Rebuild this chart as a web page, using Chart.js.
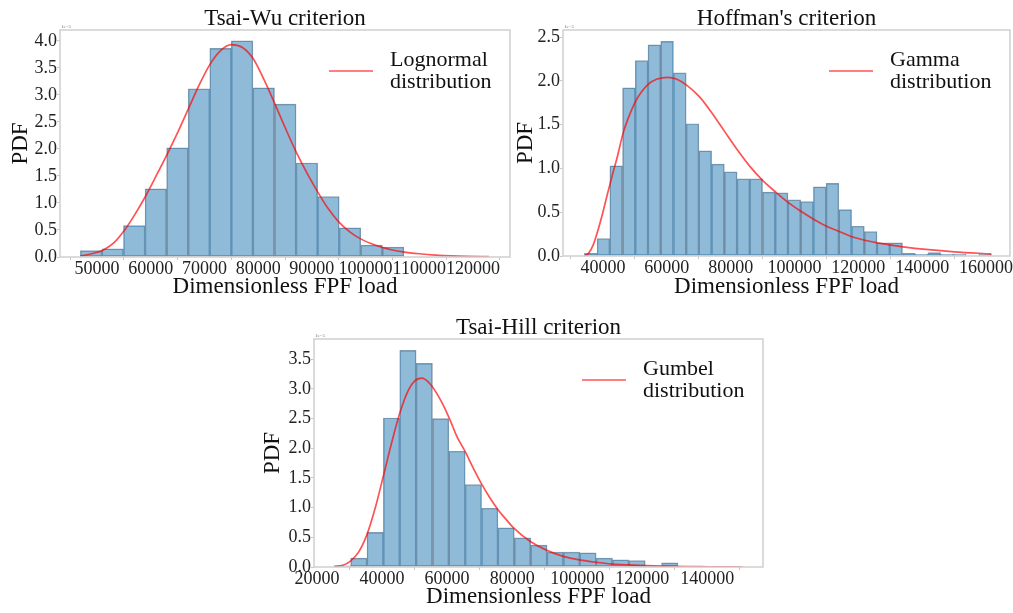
<!DOCTYPE html>
<html>
<head>
<meta charset="utf-8">
<title>FPF load distributions</title>
<script src="https://cdn.jsdelivr.net/npm/chart.js@4.4.0/dist/chart.umd.min.js"></script>
<style>
  body { margin: 0; background: #fff; width: 1013px; height: 613px; overflow: hidden; }
  canvas { position: absolute; }
</style>
</head>
<body>
<canvas id="tsaiWu" width="515" height="305" style="left:0px;top:0px"></canvas>
<canvas id="hoffman" width="508" height="305" style="left:505px;top:0px"></canvas>
<canvas id="tsaiHill" width="520" height="303" style="left:250px;top:310px"></canvas>
<script>
// PDF values are in units of 1e-5

// Tsai-Wu, histogram + lognormal fit
var tsaiWuBins = [48900, 52915, 56930, 60950, 64965, 68985, 73000, 77015, 81035, 85050, 89070, 93085, 97100, 101120, 105135];
var tsaiWuPdf = [0.12, 0.15, 0.58, 1.26, 2.02, 3.11, 3.86, 4.00, 3.13, 2.83, 1.74, 1.12, 0.54, 0.22, 0.185];
var tsaiWuFitX = [46900, 49000, 51000, 53000, 55000, 57000, 59000, 61000, 63000, 65000, 67000, 69000, 71000, 73000, 75000, 77000, 79000, 81000, 83000, 85000, 87000, 89000, 91000, 93000, 95000, 97000, 99000, 101000, 103000, 105000, 107000, 110000, 113000, 116000, 119000, 123000];
var tsaiWuFitY = [0.02, 0.06, 0.12, 0.25, 0.48, 0.78, 1.12, 1.50, 1.89, 2.30, 2.74, 3.18, 3.56, 3.82, 3.93, 3.88, 3.68, 3.30, 2.86, 2.40, 1.96, 1.57, 1.22, 0.90, 0.65, 0.47, 0.34, 0.25, 0.18, 0.13, 0.095, 0.06, 0.035, 0.02, 0.012, 0.006];
var tsaiWuXTicks = [50000, 60000, 70000, 80000, 90000, 100000, 110000, 120000];
var tsaiWuYTicks = [0, 0.5, 1, 1.5, 2, 2.5, 3, 3.5, 4];

// Hoffman, histogram + gamma fit
var hoffmanBins = [36190, 40175, 44160, 48145, 52130, 56115, 60100, 64085, 68070, 72055, 76040, 80025, 84010, 87995, 91980, 95965, 99950, 103935, 107920, 111905, 115890, 119875, 123860, 127845, 131830, 135815, 139800, 143785, 147770, 151755, 155740, 159725];
var hoffmanPdf = [0.03, 0.20, 1.03, 1.92, 2.23, 2.41, 2.45, 2.09, 1.51, 1.20, 1.05, 0.96, 0.88, 0.88, 0.73, 0.72, 0.64, 0.62, 0.79, 0.83, 0.53, 0.34, 0.28, 0.15, 0.15, 0.03, 0.02, 0.04, 0.02, 0.02, 0, 0.02];
var hoffmanFitX = [34230, 35500, 37000, 38500, 40000, 41500, 43000, 44500, 46300, 48000, 50300, 52000, 54150, 57000, 60400, 63000, 66200, 70200, 74200, 78150, 82150, 86100, 90100, 94100, 98100, 102000, 106000, 110000, 114000, 118000, 122000, 126000, 134000, 142000, 150000, 161600];
var hoffmanFitY = [0.0, 0.03, 0.13, 0.30, 0.50, 0.72, 0.93, 1.13, 1.40, 1.58, 1.77, 1.87, 1.96, 2.02, 2.04, 2.02, 1.95, 1.82, 1.63, 1.42, 1.21, 1.02, 0.86, 0.73, 0.61, 0.51, 0.42, 0.34, 0.28, 0.22, 0.18, 0.15, 0.105, 0.072, 0.048, 0.024];
var hoffmanXTicks = [40000, 60000, 80000, 100000, 120000, 140000, 160000];
var hoffmanYTicks = [0, 0.5, 1, 1.5, 2, 2.5];

// Tsai-Hill, histogram + Gumbel fit
var tsaiHillBins = [27845, 32875, 37905, 42935, 47965, 52995, 58025, 63055, 68085, 73115, 78145, 83175, 88205, 93235, 98265, 103295, 108325, 113355, 118385, 123415, 128445];
var tsaiHillPdf = [0.02, 0.15, 0.585, 2.51, 3.65, 3.43, 2.50, 1.95, 1.39, 0.99, 0.66, 0.49, 0.37, 0.25, 0.25, 0.24, 0.15, 0.12, 0.11, 0.02, 0.07];
var tsaiHillFitX = [25330, 28000, 30300, 32800, 35400, 38000, 40500, 43000, 45400, 47700, 50000, 52300, 55000, 57500, 60500, 63000, 65500, 68200, 70600, 73000, 75600, 78000, 80600, 85600, 90700, 95700, 100700, 105700, 110700, 115800, 125800, 140000, 150800];
var tsaiHillFitY = [0.01, 0.03, 0.10, 0.25, 0.55, 1.01, 1.55, 2.10, 2.58, 2.93, 3.13, 3.18, 3.07, 2.86, 2.53, 2.20, 1.95, 1.65, 1.40, 1.18, 0.97, 0.81, 0.65, 0.43, 0.28, 0.18, 0.12, 0.08, 0.05, 0.035, 0.014, 0.004, 0.002];
var tsaiHillXTicks = [20000, 40000, 60000, 80000, 100000, 120000, 140000];
var tsaiHillYTicks = [0, 0.5, 1, 1.5, 2, 2.5, 3, 3.5];

var serif = "'Liberation Serif', 'Times New Roman', serif";
Chart.defaults.font.family = serif;
Chart.defaults.color = '#222';

// frame, title, 1e-5 offset text and the two-line legend
var decorPlugin = {
    id: 'decor',
    afterDraw: function(chart, args, o) {
        var ctx = chart.ctx;
        var a = chart.chartArea;
        ctx.save();
        ctx.strokeStyle = '#cfcfcf';
        ctx.lineWidth = 1.5;
        ctx.strokeRect(a.left, a.top, a.right - a.left, a.bottom - a.top);

        ctx.fillStyle = '#777';
        ctx.font = '5px ' + serif;
        ctx.textAlign = 'left';
        ctx.textBaseline = 'bottom';
        ctx.fillText('1e\u22125', a.left + 1, a.top - 0.5);

        ctx.fillStyle = '#111';
        ctx.font = '23px ' + serif;
        ctx.textAlign = 'center';
        ctx.textBaseline = 'alphabetic';
        ctx.fillText(o.title, (a.left + a.right) / 2, a.top - 5);

        var fit = chart.data.datasets[0];
        ctx.strokeStyle = fit.borderColor;
        ctx.lineWidth = 1.7;
        ctx.beginPath();
        ctx.moveTo(a.right - 181, a.top + 41);
        ctx.lineTo(a.right - 137, a.top + 41);
        ctx.stroke();
        ctx.textAlign = 'left';
        ctx.font = '22px ' + serif;
        fit.label.split('\n').forEach(function(line, i) {
            ctx.fillText(line, a.right - 120, a.top + 36 + i * 21.6);
        });
        ctx.restore();
    }
};

function makeChart(id, p) {
    var ctx = document.getElementById(id).getContext('2d');
    return new Chart(ctx, {
        type: 'bar',
        data: {
            datasets: [
            {
                type: 'line',
                label: p.fitName,
                data: p.fitX.map((x, i) => ({ x: x, y: p.fitY[i] })),
                borderColor: 'rgba(255,0,0,0.68)',
                borderWidth: 1.7,
                pointRadius: 0,
                cubicInterpolationMode: 'monotone',
                fill: false,
                order: 0
            },
            {
                label: 'histogram',
                data: p.bins.map((x, i) => ({ x: x, y: p.pdf[i] })),
                backgroundColor: 'rgba(31,119,180,0.5)',
                borderColor: 'rgba(60,95,125,0.6)',
                borderWidth: 0.8,
                borderSkipped: false,
                barPercentage: 1,
                categoryPercentage: 1,
                order: 1
            }
            ]
        },
        options: {
            responsive: false,
            animation: false,
            devicePixelRatio: 1,
            layout: { padding: { top: p.padTop, right: p.padRight, left: 0, bottom: 0 } },
            plugins: {
                legend: { display: false },
                tooltip: { enabled: false },
                decor: { title: p.title }
            },
            scales: {
                x: {
                    type: 'linear',
                    min: p.xMin,
                    max: p.xMax,
                    offset: false,
                    bounds: 'data',
                    afterBuildTicks: axis => { axis.ticks = p.xTicks.map(v => ({ value: v })); },
                    afterFit: axis => { axis.height = p.xHeight; },
                    ticks: {
                        autoSkip: false,
                        maxRotation: 0,
                        minRotation: 0,
                        padding: -2,
                        color: '#222',
                        font: { size: 18 },
                        callback: v => String(v)
                    },
                    grid: { drawOnChartArea: false, drawTicks: true, tickLength: 3, color: '#c8c8c8' },
                    border: { display: false },
                    title: {
                        display: true,
                        text: 'Dimensionless FPF load',
                        color: '#111',
                        font: { size: 23, lineHeight: 1.2 },
                        padding: { top: 0, bottom: p.xTitlePad }
                    }
                },
                y: {
                    type: 'linear',
                    min: 0,
                    max: p.yMax,
                    bounds: 'data',
                    afterBuildTicks: axis => { axis.ticks = p.yTicks.map(v => ({ value: v })); },
                    afterFit: axis => { axis.width = p.yWidth; },
                    ticks: {
                        padding: 0,
                        color: '#222',
                        font: { size: 18 },
                        callback: v => v.toFixed(1)
                    },
                    grid: { drawOnChartArea: false, drawTicks: true, tickLength: 3, color: '#c8c8c8' },
                    border: { display: false },
                    title: {
                        display: true,
                        text: 'PDF',
                        color: '#111',
                        font: { size: 23, lineHeight: 1.2 },
                        padding: { top: p.yTitlePad, bottom: 0 }
                    }
                }
            }
        },
        plugins: [decorPlugin]
    });
}

makeChart('tsaiWu', {
    title: 'Tsai-Wu criterion', fitName: 'Lognormal\ndistribution',
    bins: tsaiWuBins, pdf: tsaiWuPdf, fitX: tsaiWuFitX, fitY: tsaiWuFitY,
    xTicks: tsaiWuXTicks, yTicks: tsaiWuYTicks,
    xMin: 43100, xMax: 126900, yMax: 4.2,
    padTop: 30, padRight: 5, yWidth: 60, xHeight: 48, xTitlePad: 4.5, yTitlePad: 7
});
makeChart('hoffman', {
    title: "Hoffman's criterion", fitName: 'Gamma\ndistribution',
    bins: hoffmanBins, pdf: hoffmanPdf, fitX: hoffmanFitX, fitY: hoffmanFitY,
    xTicks: hoffmanXTicks, yTicks: hoffmanYTicks,
    xMin: 27500, xMax: 167500, yMax: 2.58,
    padTop: 30, padRight: 3, yWidth: 58, xHeight: 49, xTitlePad: 4.5, yTitlePad: 7.3
});
makeChart('tsaiHill', {
    title: 'Tsai-Hill criterion', fitName: 'Gumbel\ndistribution',
    bins: tsaiHillBins, pdf: tsaiHillPdf, fitX: tsaiHillFitX, fitY: tsaiHillFitY,
    xTicks: tsaiHillXTicks, yTicks: tsaiHillYTicks,
    xMin: 19100, xMax: 157100, yMax: 3.84,
    padTop: 29, padRight: 7, yWidth: 64, xHeight: 46, xTitlePad: 2, yTitlePad: 9.3
});
</script>
</body>
</html>
